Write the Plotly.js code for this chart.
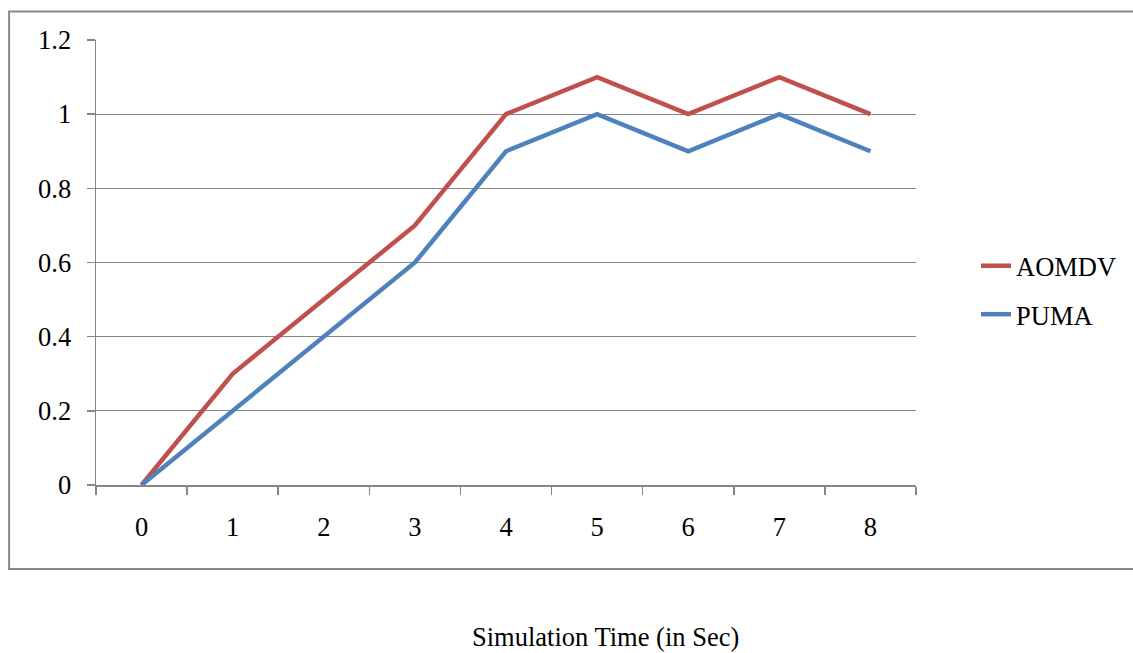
<!DOCTYPE html>
<html>
<head>
<meta charset="utf-8">
<script src="https://cdn.plot.ly/plotly-3.0.1.min.js"></script>
<style>html,body{margin:0;padding:0;background:#fff;}#chart{width:1133px;height:653px;}</style>
</head>
<body>
<div id="chart"></div>
<script>
const categories = ["0","1","2","3","4","5","6","7","8"];
const aomdv = [0, 0.3, 0.5, 0.7, 1.0, 1.1, 1.0, 1.1, 1.0];
const puma  = [0, 0.2, 0.4, 0.6, 0.9, 1.0, 0.9, 1.0, 0.9];
const yTickVals = [0, 0.2, 0.4, 0.6, 0.8, 1, 1.2];
const yTickText = ["0", "0.2", "0.4", "0.6", "0.8", "1", "1.2"];
const xTitle = "Simulation Time (in Sec)";

const FONT = "Liberation Serif, Times New Roman, serif";
const FS = 26.5;
const GRID = "#868686";

const traces = [
  {x: categories, y: aomdv, name: "AOMDV", type: "scatter", mode: "lines",
   line: {color: "#C0504D", width: 4.5}, legendgroup: "a"},
  {x: categories, y: puma, name: "PUMA", type: "scatter", mode: "lines",
   line: {color: "#4F81BD", width: 4.5}, legendgroup: "b"}
];

const L = 96, R = 917, T = 40, B = 485, W = 1133, H = 653;
const pw = R - L, ph = B - T;
const px = v => (v - L) / pw;
const py = v => (B - v) / ph;

const layout = {
  width: W, height: H,
  margin: {l: L, r: W - R, t: T, b: H - B, pad: 0},
  paper_bgcolor: "#ffffff", plot_bgcolor: "#ffffff",
  font: {family: FONT, size: FS, color: "#000"},
  showlegend: true,
  legend: {x: px(976), y: py(290), xanchor: "left", yanchor: "middle",
           traceorder: "grouped", tracegroupgap: 11,
           font: {family: FONT, size: FS, color: "#000"}, bgcolor: "rgba(0,0,0,0)"},
  xaxis: {type: "category", tickson: "boundaries", range: [-0.5, 8.5],
          showgrid: false, zeroline: false, showline: true, linecolor: GRID, linewidth: 1.5,
          ticks: "outside", ticklen: 8, tickcolor: GRID, tickwidth: 1.5,
          ticklabelstandoff: 18, tickfont: {family: FONT, size: FS, color: "#000"}, fixedrange: true},
  yaxis: {range: [0, 1.2], tickmode: "array", tickvals: yTickVals, ticktext: yTickText,
          showgrid: true, gridcolor: GRID, gridwidth: 1.2, zeroline: false,
          showline: true, linecolor: GRID, linewidth: 1.5,
          ticks: "outside", ticklen: 8, tickcolor: GRID, tickwidth: 1.5,
          ticklabelstandoff: 10, tickfont: {family: FONT, size: FS, color: "#000"}, fixedrange: true},
  shapes: [
    {type: "rect", xref: "paper", yref: "paper", x0: px(9), x1: px(1145), y0: py(569), y1: py(11.5),
     line: {color: "#888888", width: 2}, fillcolor: "rgba(0,0,0,0)", layer: "below"}
  ],
  annotations: [
    {text: xTitle, xref: "paper", yref: "paper", x: px(606.5), y: py(653),
     xanchor: "center", yanchor: "bottom", showarrow: false, borderpad: 0,
     font: {family: FONT, size: FS, color: "#000"}}
  ]
};

Plotly.newPlot("chart", traces, layout, {displayModeBar: false, staticPlot: true});
</script>
</body>
</html>
